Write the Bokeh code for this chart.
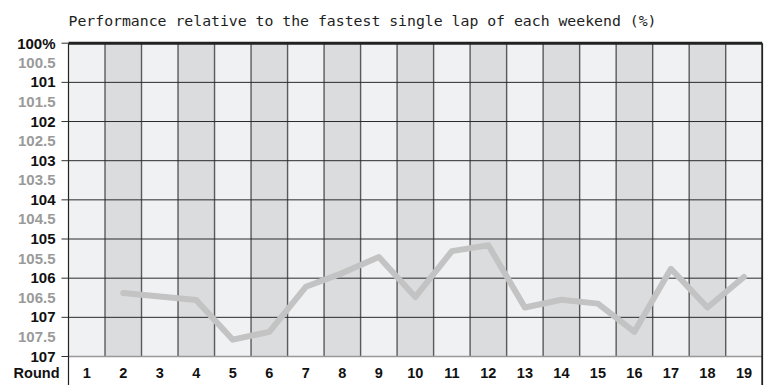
import math
from bokeh.plotting import figure
from bokeh.models import Range1d, ColumnDataSource
from bokeh.core.properties import value
from bokeh.embed import file_html
from bokeh.resources import INLINE

# ---- data ----
rounds = list(range(1, 20))
pct = [math.nan, 106.38, 106.47, 106.56, 107.57, 107.37, 106.22, 105.87, 105.46,
       106.48, 105.31, 105.16, 106.75, 106.55, 106.65, 107.37, 105.76, 106.75, 105.97]
major_ticks = [100, 101, 102, 103, 104, 105, 106, 107, 108]
major_labels = ["100%", "101", "102", "103", "104", "105", "106", "107", "107"]
half_ticks = [100.5, 101.5, 102.5, 103.5, 104.5, 105.5, 106.5, 107.5]
half_labels = ["100.5", "101.5", "102.5", "103.5", "104.5", "105.5", "106.5", "107.5"]
round_label = "Round"
title_text = "Performance relative to the fastest single lap of each weekend (%)"

LABEL_FONT = value("Liberation Sans")

W, H = 766, 385
# frame spans the whole canvas; plot area sits from px 68..761.7 (x), 42.7..356 (y)
x0, x1 = rounds[0] - 0.5, rounds[-1] + 0.5
sx = (761.7 - 68) / (x1 - x0)
y0, y1 = major_ticks[0], major_ticks[-1]
sy = (356 - 42.7) / (y1 - y0)
xr = Range1d(x0 - 68 / sx, x1 + (W - 761.7) / sx)
yr = Range1d(y1 + (H - 356) / sy, y0 - 42.7 / sy)

p = figure(width=W, height=H, output_backend="svg", toolbar_location=None,
           x_range=xr, y_range=yr, x_axis_location=None, y_axis_location=None,
           min_border=0)
p.outline_line_color = None
p.background_fill_color = "white"
p.border_fill_color = "white"
p.grid.visible = False

# column backgrounds
col_src = ColumnDataSource(dict(
    left=[r - 0.5 for r in rounds], right=[r + 0.5 for r in rounds],
    top=[y0] * len(rounds), bottom=[y1] * len(rounds),
    color=["#f0f1f3" if r % 2 else "#dbdcde" for r in rounds]))
p.quad(left="left", right="right", top="top", bottom="bottom", fill_color="color",
       line_color=None, source=col_src)

# vertical column lines
bounds = [r - 0.5 for r in rounds] + [x1]
p.multi_line(xs=[[b, b] for b in bounds[1:-1]], ys=[[y0, y1]] * (len(bounds) - 2),
             line_color="#5a5a5a", line_width=1.4)

# horizontal lines at integers
inner = major_ticks[1:-1]
p.multi_line(xs=[[x0, x1]] * len(inner), ys=[[v, v] for v in inner],
             line_color="#2a2a2a", line_width=1)
p.line(x=[x0, x1], y=[y1, y1], line_color="#999999", line_width=1.5)

# left axis line and right border, running to the bottom of the canvas
p.line(x=[x0, x0], y=[y0, yr.start], line_color="#222222", line_width=1.2)
p.line(x=[x1, x1], y=[y0, yr.start], line_color="#222222", line_width=1.8)
p.line(x=[x0, x1], y=[y0, y0], line_color="#222222", line_width=3)

# tick marks
p.ray(x=[x0] * len(major_ticks), y=major_ticks, length=7, length_units="screen",
      angle=math.pi, line_color="#333333", line_width=1)

# data line
p.line(x=rounds, y=pct, line_color="#c3c3c3", line_width=6, line_join="round",
       line_cap="round")

# y labels
p.text(x=[x0] * len(major_ticks), y=major_ticks, text=major_labels, x_offset=-13,
       text_align="right", text_baseline="middle", text_font=LABEL_FONT,
       text_font_style="bold", text_font_size="15px", text_color="#111111")
p.text(x=[x0] * len(half_ticks), y=half_ticks, text=half_labels, x_offset=-13,
       text_align="right", text_baseline="middle", text_font=LABEL_FONT,
       text_font_style="bold", text_font_size="15px", text_color="#9a9a9a")

# round labels
p.text(x=rounds, y=[y1] * len(rounds), text=[str(r) for r in rounds], y_offset=16,
       text_align="center", text_baseline="middle", text_font=LABEL_FONT,
       text_font_style="bold", text_font_size="14.5px", text_color="#111111")
p.text(x=[x0], y=[y1], text=[round_label], x_offset=-9, y_offset=16,
       text_align="right", text_baseline="middle", text_font=LABEL_FONT,
       text_font_style="bold", text_font_size="14.5px", text_color="#111111")

# title
p.text(x=[x0], y=[y0], text=[title_text], y_offset=-23,
       text_align="left", text_baseline="middle",
       text_font=value("DejaVu Sans Mono"), text_font_size="14.8px",
       text_color="#1e1e1e")

open("out.html", "w").write(file_html(p, INLINE))
